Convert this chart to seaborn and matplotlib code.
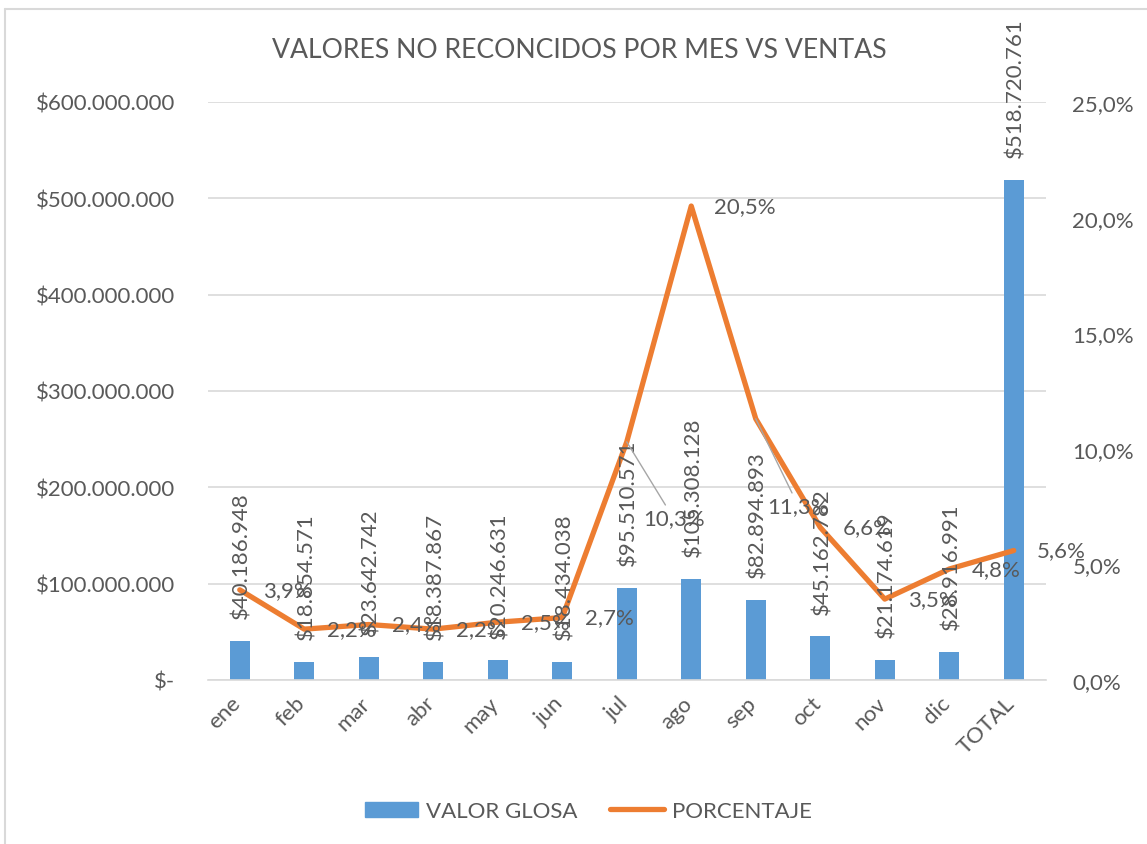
import numpy as np
import pandas as pd
import matplotlib
matplotlib.use("Agg")
import matplotlib.pyplot as plt
import matplotlib.transforms as mtransforms
import seaborn as sns
from matplotlib.lines import Line2D
from matplotlib.ticker import FuncFormatter, MultipleLocator

# ---- data ----
meses = ["ene", "feb", "mar", "abr", "may", "jun", "jul", "ago", "sep", "oct", "nov", "dic", "TOTAL"]
valor_glosa = [40186948, 18854571, 23642742, 18387867, 20246631, 18434038,
               95510571, 105308128, 82894893, 45162782, 21174619, 28916991, 518720761]
porcentaje = [3.9, 2.2, 2.4, 2.2, 2.5, 2.7, 10.3, 20.5, 11.3, 6.6, 3.5, 4.8, 5.6]
titulo = "VALORES NO RECONCIDOS POR MES VS VENTAS"

BLUE = "#5b9bd5"
ORANGE = "#ed7d31"
TXT = "#595959"
GRID = "#d9d9d9"
FS = 16

sns.set_theme(style="white")
plt.rcParams["font.family"] = ["Lato", "DejaVu Sans"]
plt.rcParams["text.color"] = TXT

df = pd.DataFrame({"mes": meses, "valor": valor_glosa, "pct": porcentaje})
df["pos"] = np.arange(len(df))

fig = plt.figure(figsize=(11.47, 8.45), dpi=100)
W, H = 1147, 845
ax = fig.add_axes([207.5 / W, 1 - 681 / H, (1046 - 207.5) / W, (681 - 103) / H])

sns.barplot(data=df, x="mes", y="valor", color=BLUE, width=0.31, ax=ax,
            saturation=1, edgecolor="none", zorder=2)
ax.set_xlim(-0.5, len(df) - 0.5)
ax.set_ylim(0, 600_000_000)
ax.yaxis.set_major_locator(MultipleLocator(100_000_000))


def money(v, _):
    if v == 0:
        return "$-"
    return "$" + f"{int(round(v)):,}".replace(",", ".")


ax.yaxis.set_major_formatter(FuncFormatter(money))
ax.grid(axis="y", color=GRID, lw=1.2, zorder=0)
ax.set_axisbelow(True)
for s in ["top", "right", "left"]:
    ax.spines[s].set_visible(False)
ax.spines["bottom"].set_color(GRID)
ax.spines["bottom"].set_linewidth(1.2)
ax.set_xlabel("")
ax.set_ylabel("")
ax.tick_params(axis="y", length=0, pad=23, labelsize=FS, labelcolor=TXT)
ax.tick_params(axis="x", length=0, pad=9, labelsize=FS, labelcolor=TXT)
shift = mtransforms.ScaledTranslation(5 / 100, 0, fig.dpi_scale_trans)
for lbl in ax.get_xticklabels():
    lbl.set_rotation(45)
    lbl.set_ha("right")
    lbl.set_rotation_mode("default")
    lbl.set_transform(lbl.get_transform() + shift)

ax2 = ax.twinx()
sns.lineplot(data=df, x="pos", y="pct", color=ORANGE, lw=3.8, ax=ax2,
             solid_capstyle="round", solid_joinstyle="round", zorder=3)
ax2.set_xlim(-0.5, len(df) - 0.5)
ax2.set_ylim(0, 25)
ax2.yaxis.set_major_locator(MultipleLocator(5))
ax2.yaxis.set_major_formatter(FuncFormatter(lambda v, _: f"{v:.1f}%".replace(".", ",")))
for s in ["top", "right", "left", "bottom"]:
    ax2.spines[s].set_visible(False)
ax2.set_ylabel("")
ax2.set_xlabel("")
ax2.tick_params(axis="y", length=0, pad=19, labelsize=FS, labelcolor=TXT)

# bar value labels (rotated, outside end)
for i, v in enumerate(valor_glosa):
    ax2.annotate(money(v, None), xy=(i, v), xycoords=ax.transData,
                 xytext=(1.5, 16.5), textcoords="offset points",
                 rotation=90, ha="center", va="bottom", fontsize=FS, color=TXT, zorder=5)

# percent labels
moved = {6: (11.5, -55), 8: (8.6, -63)}
for i, p in enumerate(porcentaje):
    txt = f"{p:.1f}%".replace(".", ",")
    if i in moved:
        ax2.annotate(txt, xy=(i, p), xytext=moved[i], textcoords="offset points",
                     ha="left", va="center", fontsize=FS, color=TXT, zorder=6,
                     arrowprops=dict(arrowstyle="-", color="#a6a6a6", lw=1,
                                     shrinkA=0, shrinkB=0))
    else:
        ax2.annotate(txt, xy=(i, p), xytext=(16.5, 0), textcoords="offset points",
                     ha="left", va="center", fontsize=FS, color=TXT, zorder=6)

fig.text(579.5 / W, 1 - 50 / H, titulo, ha="center", va="center", fontsize=19.2, color=TXT)

handles = [plt.Rectangle((0, 0), 1, 1, color=BLUE),
           Line2D([0], [0], color=ORANGE, lw=3.8, solid_capstyle="round")]
fig.legend(handles, ["VALOR GLOSA", "PORCENTAJE"], loc="center",
           bbox_to_anchor=(588 / W, 1 - 812 / H), ncol=2, frameon=False,
           fontsize=FS, handlelength=2.4, handleheight=0.65, columnspacing=1.5,
           handletextpad=0.35, labelcolor=TXT)

# chart area border (left and top visible)
fig.add_artist(Line2D([5 / W, 5 / W], [0, 1 - 10 / H], color=GRID, lw=1.5,
                      transform=fig.transFigure))
fig.add_artist(Line2D([5 / W, 1], [1 - 10 / H, 1 - 10 / H], color=GRID, lw=1.5,
                      transform=fig.transFigure))

fig.savefig("out.png", dpi=100, facecolor="white")
